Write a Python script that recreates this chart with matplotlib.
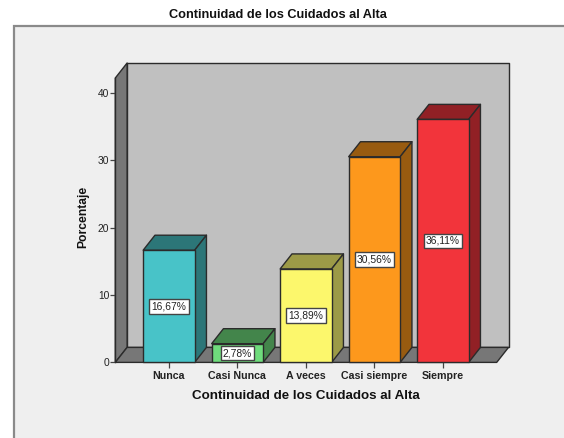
import matplotlib
matplotlib.use("Agg")
from matplotlib import pyplot as plt
from matplotlib.patches import Polygon, Rectangle

# values
categories = ["Nunca", "Casi Nunca", "A veces", "Casi siempre", "Siempre"]
valores = [16.67, 2.78, 13.89, 30.56, 36.11]
etiquetas = ["16,67%", "2,78%", "13,89%", "30,56%", "36,11%"]
y_ticks = [0, 10, 20, 30, 40]

colores = ["#48C3C8", "#6FDC7C", "#FCF76C", "#FD981C", "#F2343B"]
lados = ["#2C7678", "#43854B", "#9C9A47", "#985B10", "#912025"]

W, H = 564, 438
plt.rcParams['font.family'] = ['Liberation Sans', 'DejaVu Sans']

fig = plt.figure(figsize=(W / 100, H / 100), dpi=100, facecolor="white")

# grey panel behind the chart, runs off the right and bottom edges
fig.add_artist(Rectangle((14 / W, -0.02), (W - 14 + 10) / W, 1 - 26 / H + 0.02, transform=fig.transFigure,
                         facecolor="#EFEFEF", edgecolor="#8A8A8A", linewidth=1.6, zorder=-1))

# axes box in pixels: front wall of the 3d box
left, right, y0, ytop = 115.3, 496.7, 362.4, 78.0
ax = fig.add_axes([left / W, 1 - y0 / H, (right - left) / W, (y0 - ytop) / H])
ax.patch.set_visible(False)
paso = 68.5
ax.set_xlim((left - 168.9) / paso, (right - 168.9) / paso)
por_unidad = 6.73
ax.set_ylim(0, (y0 - ytop) / por_unidad)

dx = 11.8 / paso   # depth of the 3d effect, in data units
dy = 15 / por_unidad
ancho = 51.5 / paso
x0, x1 = ax.get_xlim()
ymax = ax.get_ylim()[1]
borde = "#2B2B2B"


def poly(pts, color, z=1, lw=1.0, ec=borde):
    ax.add_patch(Polygon(pts, closed=True, facecolor=color, edgecolor=ec, linewidth=lw,
                         zorder=z, clip_on=False, joinstyle="round"))


# box walls
poly([(x0 + dx, dy), (x1 + dx, dy), (x1 + dx, ymax + dy), (x0 + dx, ymax + dy)], "#C0C0C0")
poly([(x0, 0), (x0 + dx, dy), (x0 + dx, ymax + dy), (x0, ymax)], "#777777")
poly([(x0, 0), (x1, 0), (x1 + dx, dy), (x0 + dx, dy)], "#777777")

# bars
for i, v in enumerate(valores):
    a = i - ancho / 2
    b = i + ancho / 2
    poly([(a, v), (b, v), (b + dx, v + dy), (a + dx, v + dy)], lados[i], z=3)
    poly([(b, 0), (b + dx, dy), (b + dx, v + dy), (b, v)], lados[i], z=3)
    poly([(a, 0), (b, 0), (b, v), (a, v)], colores[i], z=4)
    ax.text(i, v / 2, etiquetas[i], ha="center", va="center", fontsize=7.4, color="#222222", zorder=6,
            bbox=dict(boxstyle="square,pad=0.22", facecolor="white", edgecolor="#444444", linewidth=1))

for s in ax.spines.values():
    s.set_visible(False)
ax.spines["left"].set_visible(True)
ax.spines["left"].set_color(borde)
ax.spines["left"].set_linewidth(1.0)

ax.set_xticks(range(len(categories)))
ax.set_xticklabels(categories, fontsize=7.7, fontweight="bold", color="#222222")
ax.set_yticks(y_ticks)
ax.set_yticklabels([str(t) for t in y_ticks], fontsize=7.4, color="#222222")
ax.tick_params(axis="x", length=4.3, width=0.9, color="#444444", pad=2)
ax.tick_params(axis="y", length=3.6, width=0.9, color="#444444", pad=0.7)

ax.set_xlabel("Continuidad de los Cuidados al Alta", fontsize=9.6, fontweight="bold", color="#111111")
ax.xaxis.set_label_coords((306 - left) / (right - left), -(396 - y0) / (y0 - ytop), transform=ax.transAxes)
ax.xaxis.label.set_va("center")
ax.set_ylabel("Porcentaje", fontsize=8.7, fontweight="bold", color="#111111")
ax.yaxis.set_label_coords(-(left - 83) / (right - left), (y0 - 216.5) / (y0 - ytop), transform=ax.transAxes)
ax.yaxis.label.set_va("center")

fig.text(277.5 / W, 1 - 14.5 / H, "Continuidad de los Cuidados al Alta", ha="center", va="center",
         fontsize=9.2, fontweight="bold", color="#111111")

fig.savefig("out.png", dpi=100)
